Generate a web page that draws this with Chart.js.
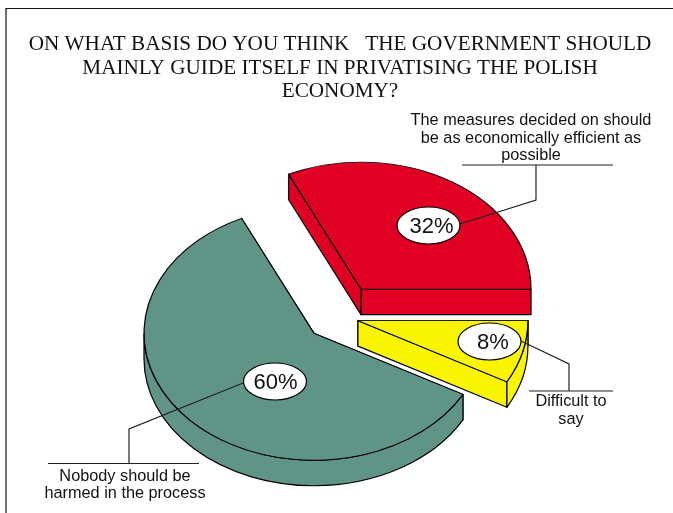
<!DOCTYPE html>
<html>
<head>
<meta charset="utf-8">
<style>
  html, body { margin: 0; padding: 0; background: #fff; overflow: hidden; }
  canvas { display: block; }
</style>
<script src="https://cdn.jsdelivr.net/npm/chart.js@4"></script>
</head>
<body>
<canvas id="chart" width="673" height="513"></canvas>
<script>
const categories = ['The measures decided on should be as economically efficient as possible', 'Difficult to say', 'Nobody should be harmed in the process'];
const values = [32, 8, 60];
const sliceColors = ['#e00024', '#f9f500', '#5f9486'];
const titleLines = [
    'ON WHAT BASIS DO YOU THINK   THE GOVERNMENT SHOULD',
    'MAINLY GUIDE ITSELF IN PRIVATISING THE POLISH',
    'ECONOMY?'
];
const captionLines = [
    ['The measures decided on should', 'be as economically efficient as', 'possible'],
    ['Difficult to', 'say'],
    ['Nobody should be', 'harmed in the process']
];

// pie geometry
const pieCentre = { x: 337.6, y: 316.7 };
const tilt = 0.747;
const depth = 25.5;
const explode = [43.7, 21, 32.4];

// ellipse badge, leader line and caption for each slice
const callouts = [
    {
        badge: { x: 428.5, y: 225.5, textX: 431.5 },
        leader: [[460, 224], [536, 200], [536, 165]],
        rule: { from: 462, to: 613, y: 165 },
        caption: { x: 531, y: 125, step: 17.5 }
    },
    {
        badge: { x: 489.5, y: 341.5, textX: 493 },
        leader: [[521, 341], [569, 364], [569, 391]],
        rule: { from: 529, to: 613, y: 391 },
        caption: { x: 571, y: 406, step: 17.5 }
    },
    {
        badge: { x: 275, y: 381.5, textX: 275.5 },
        leader: [[243, 383], [129, 429], [129, 463.5]],
        rule: { from: 48, to: 199, y: 463.5 },
        caption: { x: 125, y: 481, step: 17 }
    }
];

// squashes every arc into an ellipse, pulls it out of the pie and gives it side walls
const pie3d = {
    id: 'pie3d',
    beforeDatasetDraw(chart, args) {
        const ctx = chart.ctx;
        args.meta.data.forEach((arc, i) => {
            const mid = (arc.startAngle + arc.endAngle) / 2;
            const ax = pieCentre.x + Math.cos(mid) * explode[i];
            const ay = pieCentre.y + Math.sin(mid) * explode[i] * tilt;
            const r = arc.outerRadius;

            ctx.save();
            ctx.fillStyle = arc.options.backgroundColor;
            ctx.strokeStyle = arc.options.borderColor;
            ctx.lineWidth = arc.options.borderWidth;
            ctx.lineJoin = 'round';

            [arc.startAngle, arc.endAngle].forEach(angle => {
                const rimX = ax + Math.cos(angle) * r;
                const rimY = ay + Math.sin(angle) * r * tilt;
                ctx.beginPath();
                ctx.moveTo(ax, ay);
                ctx.lineTo(rimX, rimY);
                ctx.lineTo(rimX, rimY + depth);
                ctx.lineTo(ax, ay + depth);
                ctx.closePath();
                ctx.fill();
                ctx.stroke();
            });

            const lo = Math.max(arc.startAngle, 0);
            const hi = Math.min(arc.endAngle, Math.PI);
            if (hi > lo) {
                ctx.beginPath();
                ctx.ellipse(ax, ay, r, r * tilt, 0, lo, hi);
                ctx.ellipse(ax, ay + depth, r, r * tilt, 0, hi, lo, true);
                ctx.closePath();
                ctx.fill();
                ctx.stroke();
            }

            ctx.translate(ax, ay);
            ctx.scale(1, tilt);
            ctx.translate(-arc.x, -arc.y);
            arc.draw(ctx);
            ctx.restore();
        });
        return false;
    },
    afterDraw(chart) {
        const ctx = chart.ctx;
        ctx.save();

        // frame
        ctx.strokeStyle = '#111';
        ctx.lineWidth = 1.2;
        ctx.beginPath();
        ctx.moveTo(6, 513);
        ctx.lineTo(6, 8.5);
        ctx.lineTo(673, 8.5);
        ctx.stroke();

        callouts.forEach((c, i) => {
            ctx.strokeStyle = '#222';
            ctx.lineWidth = 1.2;
            ctx.beginPath();
            c.leader.forEach((p, n) => n ? ctx.lineTo(p[0], p[1]) : ctx.moveTo(p[0], p[1]));
            ctx.stroke();

            ctx.beginPath();
            ctx.moveTo(c.rule.from, c.rule.y);
            ctx.lineTo(c.rule.to, c.rule.y);
            ctx.stroke();

            ctx.fillStyle = '#fff';
            ctx.strokeStyle = '#000';
            ctx.beginPath();
            ctx.ellipse(c.badge.x, c.badge.y, 31.5, 18.5, 0, 0, Math.PI * 2);
            ctx.fill();
            ctx.stroke();

            ctx.fillStyle = '#111';
            ctx.textAlign = 'center';
            ctx.textBaseline = 'middle';
            ctx.font = '22px "Liberation Sans"';
            ctx.fillText(values[i] + '%', c.badge.textX, c.badge.y + 1);

            ctx.textBaseline = 'alphabetic';
            ctx.font = '16.3px "Liberation Sans"';
            captionLines[i].forEach((line, n) => {
                ctx.fillText(line, c.caption.x, c.caption.y + n * c.caption.step);
            });
        });
        ctx.restore();
    }
};

new Chart(document.querySelector('#chart').getContext('2d'), {
    type: 'pie',
    data: {
        labels: categories,
        datasets: [{
            data: values,
            backgroundColor: sliceColors,
            borderColor: '#000',
            borderWidth: 1.2,
            radius: 170,
            rotation: -25.2
        }]
    },
    options: {
        responsive: false,
        animation: false,
        layout: { padding: { left: 7 } },
        plugins: {
            legend: { display: false },
            tooltip: { enabled: false },
            title: {
                display: true,
                text: titleLines,
                color: '#111',
                font: { family: '"Liberation Serif"', size: 21.2, weight: 'normal', lineHeight: 1.1 },
                padding: { top: 33, bottom: 0 }
            }
        }
    },
    plugins: [pie3d]
});
</script>
</body>
</html>
